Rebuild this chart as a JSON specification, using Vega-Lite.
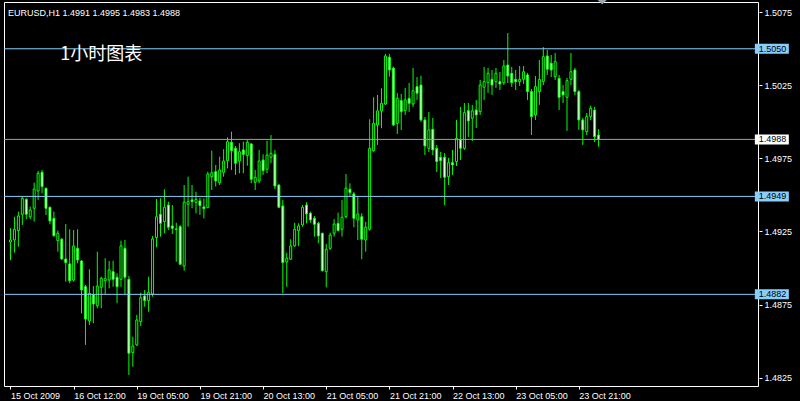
{
  "$schema": "https://vega.github.io/schema/vega-lite/v6.json",
  "width": 754,
  "height": 384,
  "autosize": {"type": "none"},
  "padding": {"left": 4, "top": 2, "right": 42, "bottom": 15},
  "background": "#000000",
  "config": {"view": {"stroke": "#FFFFFF", "strokeWidth": 1}},
  "title": {"text": "EURUSD,H1  1.4991 1.4995 1.4983 1.4988", "anchor": "start", "frame": "group", "orient": "top", "offset": -25, "dx": 4, "color": "#FFFFFF", "font": "Liberation Sans", "fontSize": 9, "fontWeight": "normal", "baseline": "alphabetic"},
  "datasets": {
    "bars": [
      {"i":0,"open":1.49178,"high":1.49272,"low":1.49055,"close":1.49192},
      {"i":1,"open":1.49192,"high":1.49351,"low":1.49105,"close":1.49265},
      {"i":2,"open":1.49256,"high":1.49386,"low":1.49146,"close":1.49356},
      {"i":3,"open":1.49368,"high":1.49488,"low":1.49295,"close":1.49477},
      {"i":4,"open":1.4947,"high":1.49477,"low":1.49334,"close":1.49368},
      {"i":5,"open":1.49351,"high":1.4942,"low":1.49334,"close":1.49397},
      {"i":6,"open":1.49409,"high":1.49584,"low":1.49317,"close":1.49539},
      {"i":7,"open":1.49527,"high":1.49664,"low":1.49466,"close":1.49648},
      {"i":8,"open":1.49655,"high":1.49671,"low":1.49511,"close":1.49557},
      {"i":9,"open":1.49546,"high":1.4955,"low":1.49363,"close":1.49409},
      {"i":10,"open":1.49416,"high":1.4942,"low":1.49299,"close":1.49322},
      {"i":11,"open":1.4934,"high":1.49386,"low":1.49215,"close":1.49221},
      {"i":12,"open":1.49187,"high":1.49256,"low":1.49112,"close":1.49238},
      {"i":13,"open":1.49197,"high":1.49205,"low":1.49055,"close":1.49062},
      {"i":14,"open":1.49062,"high":1.49301,"low":1.48907,"close":1.49037},
      {"i":15,"open":1.49028,"high":1.49265,"low":1.48896,"close":1.48913},
      {"i":16,"open":1.48918,"high":1.4926,"low":1.48907,"close":1.49151},
      {"i":17,"open":1.49135,"high":1.49265,"low":1.49032,"close":1.49055},
      {"i":18,"open":1.49048,"high":1.49055,"low":1.4869,"close":1.4885},
      {"i":19,"open":1.48872,"high":1.48884,"low":1.48474,"close":1.48651},
      {"i":20,"open":1.48638,"high":1.48991,"low":1.4861,"close":1.48827},
      {"i":21,"open":1.48816,"high":1.48877,"low":1.48622,"close":1.48754},
      {"i":22,"open":1.48742,"high":1.49112,"low":1.48725,"close":1.48877},
      {"i":23,"open":1.48868,"high":1.48941,"low":1.48725,"close":1.4893},
      {"i":24,"open":1.48913,"high":1.49067,"low":1.48822,"close":1.48927},
      {"i":25,"open":1.48918,"high":1.49048,"low":1.48861,"close":1.48987},
      {"i":26,"open":1.48975,"high":1.4905,"low":1.48872,"close":1.48923},
      {"i":27,"open":1.48937,"high":1.48964,"low":1.48759,"close":1.48872},
      {"i":28,"open":1.48923,"high":1.49187,"low":1.48872,"close":1.49151},
      {"i":29,"open":1.49135,"high":1.49192,"low":1.48822,"close":1.48937},
      {"i":30,"open":1.48923,"high":1.48946,"low":1.48268,"close":1.48417},
      {"i":31,"open":1.48421,"high":1.4853,"low":1.48325,"close":1.48467},
      {"i":32,"open":1.48474,"high":1.48679,"low":1.48467,"close":1.48645},
      {"i":33,"open":1.48633,"high":1.48831,"low":1.48604,"close":1.48797},
      {"i":34,"open":1.48809,"high":1.4885,"low":1.48736,"close":1.48777},
      {"i":35,"open":1.48777,"high":1.48941,"low":1.48701,"close":1.48834},
      {"i":36,"open":1.48822,"high":1.49219,"low":1.48804,"close":1.49199},
      {"i":37,"open":1.49208,"high":1.49472,"low":1.49142,"close":1.49351},
      {"i":38,"open":1.49368,"high":1.49477,"low":1.49215,"close":1.49306},
      {"i":39,"open":1.49317,"high":1.49539,"low":1.49238,"close":1.49416},
      {"i":40,"open":1.49431,"high":1.49454,"low":1.4926,"close":1.49279},
      {"i":41,"open":1.49288,"high":1.49431,"low":1.49233,"close":1.49272},
      {"i":42,"open":1.49267,"high":1.4931,"low":1.49043,"close":1.49265},
      {"i":43,"open":1.49283,"high":1.49295,"low":1.49021,"close":1.49026},
      {"i":44,"open":1.49014,"high":1.49568,"low":1.48982,"close":1.4945},
      {"i":45,"open":1.49436,"high":1.49625,"low":1.49283,"close":1.49454},
      {"i":46,"open":1.49466,"high":1.49568,"low":1.49409,"close":1.49454},
      {"i":47,"open":1.4945,"high":1.49522,"low":1.49375,"close":1.4947},
      {"i":48,"open":1.49459,"high":1.49481,"low":1.49363,"close":1.49427},
      {"i":49,"open":1.49418,"high":1.49477,"low":1.4934,"close":1.49406},
      {"i":50,"open":1.49413,"high":1.49659,"low":1.49409,"close":1.49643},
      {"i":51,"open":1.49625,"high":1.49803,"low":1.49534,"close":1.49652},
      {"i":52,"open":1.49659,"high":1.49705,"low":1.49557,"close":1.49596},
      {"i":53,"open":1.49584,"high":1.49762,"low":1.49568,"close":1.49671},
      {"i":54,"open":1.49655,"high":1.49813,"low":1.49625,"close":1.49732},
      {"i":55,"open":1.49734,"high":1.49895,"low":1.49682,"close":1.49864},
      {"i":56,"open":1.4986,"high":1.49933,"low":1.49671,"close":1.49803},
      {"i":57,"open":1.49819,"high":1.49835,"low":1.49637,"close":1.49717},
      {"i":58,"open":1.49732,"high":1.49854,"low":1.49648,"close":1.49796},
      {"i":59,"open":1.49808,"high":1.49864,"low":1.49648,"close":1.49778},
      {"i":60,"open":1.49769,"high":1.49876,"low":1.497,"close":1.4986},
      {"i":61,"open":1.49849,"high":1.49854,"low":1.4958,"close":1.49607},
      {"i":62,"open":1.49587,"high":1.49671,"low":1.49534,"close":1.49621},
      {"i":63,"open":1.49596,"high":1.49808,"low":1.4958,"close":1.49732},
      {"i":64,"open":1.49739,"high":1.49778,"low":1.49637,"close":1.49666},
      {"i":65,"open":1.49676,"high":1.49871,"low":1.49648,"close":1.49773},
      {"i":66,"open":1.49758,"high":1.4991,"low":1.49717,"close":1.49785},
      {"i":67,"open":1.49778,"high":1.49808,"low":1.49539,"close":1.49561},
      {"i":68,"open":1.49568,"high":1.49573,"low":1.49409,"close":1.49416},
      {"i":69,"open":1.49425,"high":1.49466,"low":1.48827,"close":1.49037},
      {"i":70,"open":1.49041,"high":1.49105,"low":1.48872,"close":1.49067},
      {"i":71,"open":1.4906,"high":1.49197,"low":1.49055,"close":1.49151},
      {"i":72,"open":1.49151,"high":1.4931,"low":1.49146,"close":1.49265},
      {"i":73,"open":1.49256,"high":1.49306,"low":1.49151,"close":1.49288},
      {"i":74,"open":1.49295,"high":1.49431,"low":1.49283,"close":1.49416},
      {"i":75,"open":1.49431,"high":1.4945,"low":1.49306,"close":1.4937},
      {"i":76,"open":1.49375,"high":1.49386,"low":1.4931,"close":1.49329},
      {"i":77,"open":1.4934,"high":1.49356,"low":1.49215,"close":1.49299},
      {"i":78,"open":1.49306,"high":1.49317,"low":1.49169,"close":1.49219},
      {"i":79,"open":1.49238,"high":1.49242,"low":1.48975,"close":1.48982},
      {"i":80,"open":1.48975,"high":1.49165,"low":1.48868,"close":1.49128},
      {"i":81,"open":1.49135,"high":1.49242,"low":1.49123,"close":1.49226},
      {"i":82,"open":1.49238,"high":1.49334,"low":1.49215,"close":1.49301},
      {"i":83,"open":1.49306,"high":1.49379,"low":1.49249,"close":1.49256},
      {"i":84,"open":1.49265,"high":1.49466,"low":1.49215,"close":1.49347},
      {"i":85,"open":1.49351,"high":1.49643,"low":1.4934,"close":1.49546},
      {"i":86,"open":1.49539,"high":1.4958,"low":1.49488,"close":1.49516},
      {"i":87,"open":1.49507,"high":1.49522,"low":1.49279,"close":1.4934},
      {"i":88,"open":1.49329,"high":1.49493,"low":1.49192,"close":1.4937},
      {"i":89,"open":1.49351,"high":1.49375,"low":1.4906,"close":1.49197},
      {"i":90,"open":1.49192,"high":1.49317,"low":1.49112,"close":1.49279},
      {"i":91,"open":1.49265,"high":1.50018,"low":1.49256,"close":1.49819},
      {"i":92,"open":1.49803,"high":1.50168,"low":1.49796,"close":1.4999},
      {"i":93,"open":1.49979,"high":1.50184,"low":1.49842,"close":1.50075},
      {"i":94,"open":1.50075,"high":1.5023,"low":1.49956,"close":1.50127},
      {"i":95,"open":1.50122,"high":1.50465,"low":1.50116,"close":1.50451},
      {"i":96,"open":1.50442,"high":1.50465,"low":1.50309,"close":1.50355},
      {"i":97,"open":1.50367,"high":1.50378,"low":1.49972,"close":1.49979},
      {"i":98,"open":1.4999,"high":1.50198,"low":1.49917,"close":1.50161},
      {"i":99,"open":1.50145,"high":1.50191,"low":1.49945,"close":1.5007},
      {"i":100,"open":1.50077,"high":1.50232,"low":1.50047,"close":1.5015},
      {"i":101,"open":1.50161,"high":1.50266,"low":1.50068,"close":1.50127},
      {"i":102,"open":1.50122,"high":1.50369,"low":1.50102,"close":1.50213},
      {"i":103,"open":1.50241,"high":1.50307,"low":1.5015,"close":1.50196},
      {"i":104,"open":1.50252,"high":1.50316,"low":1.50001,"close":1.50013},
      {"i":105,"open":1.50013,"high":1.50033,"low":1.49773,"close":1.49835},
      {"i":106,"open":1.49819,"high":1.50068,"low":1.49794,"close":1.49945},
      {"i":107,"open":1.49949,"high":1.50027,"low":1.49773,"close":1.49808},
      {"i":108,"open":1.49819,"high":1.49842,"low":1.49657,"close":1.49728},
      {"i":109,"open":1.49758,"high":1.49794,"low":1.49616,"close":1.49734},
      {"i":110,"open":1.49758,"high":1.49787,"low":1.49431,"close":1.49621},
      {"i":111,"open":1.49625,"high":1.49753,"low":1.49568,"close":1.49721},
      {"i":112,"open":1.49721,"high":1.49808,"low":1.49637,"close":1.49705},
      {"i":113,"open":1.49728,"high":1.50013,"low":1.49698,"close":1.49888},
      {"i":114,"open":1.49881,"high":1.50102,"low":1.49739,"close":1.49819},
      {"i":115,"open":1.49819,"high":1.50129,"low":1.49808,"close":1.50063},
      {"i":116,"open":1.50077,"high":1.50129,"low":1.49897,"close":1.50006},
      {"i":117,"open":1.50025,"high":1.50116,"low":1.49869,"close":1.50075},
      {"i":118,"open":1.50081,"high":1.5015,"low":1.49958,"close":1.50047},
      {"i":119,"open":1.5007,"high":1.50287,"low":1.50047,"close":1.50252},
      {"i":120,"open":1.50237,"high":1.50376,"low":1.5015,"close":1.50275},
      {"i":121,"open":1.50268,"high":1.50369,"low":1.50198,"close":1.50332},
      {"i":122,"open":1.50291,"high":1.50355,"low":1.50184,"close":1.50252},
      {"i":123,"open":1.50275,"high":1.50369,"low":1.50232,"close":1.50332},
      {"i":124,"open":1.50275,"high":1.50341,"low":1.50218,"close":1.50259},
      {"i":125,"open":1.50268,"high":1.50423,"low":1.50252,"close":1.50382},
      {"i":126,"open":1.50389,"high":1.50608,"low":1.50266,"close":1.50314},
      {"i":127,"open":1.50332,"high":1.50376,"low":1.50239,"close":1.50268},
      {"i":128,"open":1.50291,"high":1.50355,"low":1.50218,"close":1.50275},
      {"i":129,"open":1.50275,"high":1.50382,"low":1.50246,"close":1.50291},
      {"i":130,"open":1.50291,"high":1.50382,"low":1.50259,"close":1.50343},
      {"i":131,"open":1.50321,"high":1.50335,"low":1.5015,"close":1.50207},
      {"i":132,"open":1.50207,"high":1.50225,"low":1.4991,"close":1.50036},
      {"i":133,"open":1.50047,"high":1.50314,"low":1.50013,"close":1.50241},
      {"i":134,"open":1.50207,"high":1.50423,"low":1.50116,"close":1.50291},
      {"i":135,"open":1.50275,"high":1.50512,"low":1.50252,"close":1.50446},
      {"i":136,"open":1.50451,"high":1.50492,"low":1.50321,"close":1.5036},
      {"i":137,"open":1.50401,"high":1.50458,"low":1.50307,"close":1.50355},
      {"i":138,"open":1.50309,"high":1.50471,"low":1.50287,"close":1.50412},
      {"i":139,"open":1.50298,"high":1.50321,"low":1.50081,"close":1.50168},
      {"i":140,"open":1.50207,"high":1.50252,"low":1.50129,"close":1.50184},
      {"i":141,"open":1.50168,"high":1.503,"low":1.49938,"close":1.50282},
      {"i":142,"open":1.50291,"high":1.50471,"low":1.50252,"close":1.50343},
      {"i":143,"open":1.50355,"high":1.50369,"low":1.50184,"close":1.50207},
      {"i":144,"open":1.50207,"high":1.50218,"low":1.49945,"close":1.50013},
      {"i":145,"open":1.50013,"high":1.50027,"low":1.49842,"close":1.49945},
      {"i":146,"open":1.49933,"high":1.50061,"low":1.4991,"close":1.50036},
      {"i":147,"open":1.50036,"high":1.50109,"low":1.50013,"close":1.50093},
      {"i":148,"open":1.50081,"high":1.50102,"low":1.49862,"close":1.49899},
      {"i":149,"open":1.4991,"high":1.4995,"low":1.4983,"close":1.4988}
    ],
    "levels": [
      {"price": 1.505, "kind": "line"},
      {"price": 1.4988, "kind": "bid"},
      {"price": 1.4949, "kind": "line"},
      {"price": 1.4882, "kind": "line"}
    ],
    "notes": [
      {"label": "1小时图表"}
    ]
  },
  "layer": [
    {
      "data": {"name": "bars"},
      "mark": {"type": "rule", "color": "#00FF00", "strokeWidth": 1},
      "encoding": {
        "x": {"field": "i", "type": "quantitative",
          "scale": {"domain": [-0.375, 188.125], "nice": false, "zero": false},
          "axis": {"orient": "bottom", "values": [0, 16, 32, 48, 64, 80, 96, 112, 128, 144],
            "labelExpr": "['15 Oct 2009','16 Oct 12:00','19 Oct 05:00','19 Oct 21:00','20 Oct 13:00','21 Oct 05:00','21 Oct 21:00','22 Oct 13:00','23 Oct 05:00','23 Oct 21:00'][round(datum.value/16)]",
            "title": null, "grid": false, "domain": false, "tickColor": "#FFFFFF", "tickSize": 3,
            "labelColor": "#FFFFFF", "labelFont": "Liberation Sans", "labelFontSize": 9, "labelAlign": "left",
            "labelPadding": 2, "labelFlush": false, "labelOverlap": false, "labelBound": false}},
        "y": {"field": "low", "type": "quantitative",
          "scale": {"domain": [1.48193, 1.5082], "nice": false, "zero": false},
          "axis": {"orient": "right", "values": [1.4825, 1.485, 1.4875, 1.49, 1.4925, 1.495, 1.4975, 1.5, 1.5025, 1.505, 1.5075],
            "format": ".4f", "title": null, "grid": false, "domain": false, "offset": 1, "tickColor": "#FFFFFF", "tickSize": 3,
            "labelColor": "#FFFFFF", "labelFont": "Liberation Sans", "labelFontSize": 9, "labelPadding": 2,
            "labelBaseline": "middle", "labelFlush": false, "labelOverlap": false}},
        "y2": {"field": "high"}
      }
    },
    {
      "data": {"name": "bars"},
      "mark": {"type": "bar", "width": 2, "stroke": "#00FF00", "strokeWidth": 1},
      "encoding": {
        "x": {"field": "i", "type": "quantitative"},
        "y": {"field": "open", "type": "quantitative"},
        "y2": {"field": "close"},
        "fill": {"condition": {"test": "datum.close < datum.open", "value": "#FFFFFF"}, "value": "#000000"}
      }
    },
    {
      "data": {"name": "levels"},
      "mark": {"type": "rule", "strokeWidth": 1},
      "encoding": {
        "y": {"field": "price", "type": "quantitative"},
        "color": {"condition": {"test": "datum.kind == 'bid'", "value": "#A0A0A0"}, "value": "#87CEFA"}
      }
    },
    {
      "data": {"name": "levels"},
      "mark": {"type": "rect", "width": 34, "height": 10},
      "encoding": {
        "x": {"datum": 192.9, "type": "quantitative"},
        "y": {"field": "price", "type": "quantitative"},
        "fill": {"condition": {"test": "datum.kind == 'bid'", "value": "#FFFFFF"}, "value": "#87CEFA"}
      }
    },
    {
      "data": {"name": "levels"},
      "mark": {"type": "text", "align": "left", "baseline": "middle", "font": "Liberation Sans", "fontSize": 9, "color": "#000000"},
      "encoding": {
        "x": {"datum": 189.6, "type": "quantitative"},
        "y": {"field": "price", "type": "quantitative"},
        "text": {"field": "price", "type": "quantitative", "format": ".4f"}
      }
    },
    {
      "data": {"name": "notes"},
      "mark": {"type": "point", "shape": "M-1,-0.5L1,-0.5L0,0.5Z", "filled": true, "size": 100, "color": "#9AA6B0", "opacity": 1},
      "encoding": {
        "x": {"datum": 149.9, "type": "quantitative"},
        "y": {"datum": 1.5082, "type": "quantitative"}
      }
    },
    {
      "data": {"name": "notes"},
      "mark": {"type": "text", "align": "left", "baseline": "middle", "font": "Noto Sans CJK SC", "fontSize": 18, "color": "#FFFFFF"},
      "encoding": {
        "x": {"datum": 12.6, "type": "quantitative"},
        "y": {"datum": 1.5046, "type": "quantitative"},
        "text": {"field": "label"}
      }
    }
  ]
}
